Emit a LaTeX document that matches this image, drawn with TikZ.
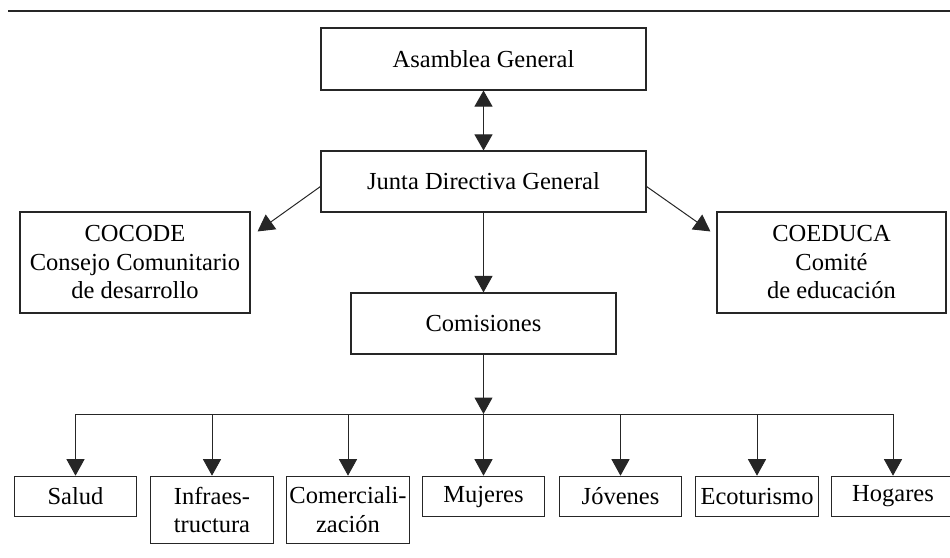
\documentclass[tikz,border=0pt]{standalone}
\usepackage{fontspec}
\setmainfont{Liberation Serif}
\usetikzlibrary{arrows.meta,calc}
\begin{document}
\begin{tikzpicture}[x=1pt,y=-1pt,
  box/.style={draw=black!85,line width=1.1pt,inner sep=0pt,align=center,
    font=\fontsize{24.5pt}{28.5pt}\selectfont},
  small/.style={box,minimum width=122.5pt,anchor=north},
  conn/.style={draw=black!85,line width=1pt,-{Triangle[length=16.5pt,width=18pt]}},
  biconn/.style={draw=black!85,line width=1pt,{Triangle[length=16pt,width=18pt]}-{Triangle[length=16pt,width=18pt]}},
  bus/.style={draw=black!85,line width=1pt}]
\useasboundingbox (0,0) rectangle (950,557);
\draw[line width=2.7pt,black!85] (8,11) -- (950,11);

\node[box,minimum width=325pt,minimum height=62pt] (asam) at (483.5,59) {Asamblea General};
\node[box,minimum width=325pt,minimum height=61pt] (junta) at (483.5,181.5) {Junta Directiva General};
\node[box,minimum width=230pt,minimum height=101pt] (cocode) at (135,262.5) {COCODE\\Consejo Comunitario\\de desarrollo};
\node[box,minimum width=229pt,minimum height=101pt] (coeduca) at (831.5,262.5) {COEDUCA\\Comité\\de educación};
\node[box,minimum width=265pt,minimum height=61pt] (comis) at (483.5,323.5) {Comisiones};

\node[small,minimum height=40.5pt] (salud) at (75.5,475.7) {Salud};
\node[small,minimum height=67pt] (infra) at (212,475.7) {Infraes-\\tructura};
\node[small,minimum height=67pt] (comer) at (348,475.7) {Comerciali-\\zación};
\node[small,minimum height=40.5pt] (muj) at (483.5,475.7) {Mujeres};
\node[small,minimum height=40.5pt] (jov) at (620.5,475.7) {Jóvenes};
\node[small,minimum height=40.5pt] (eco) at (757,475.7) {Ecoturismo};
\node[small,minimum height=40.5pt] (hog) at (893,475.7) {Hogares};

\coordinate (busc) at (483.5,414);
\coordinate (busl) at (75.5,414);
\coordinate (busr) at (893,414);

\draw[biconn] (asam.south) -- (junta.north);
\draw[conn] ([yshift=-5pt]junta.west) -- ($(cocode.north east)+(7,20)$);
\draw[conn] ([yshift=-5pt]junta.east) -- ($(coeduca.north west)+(-6,20)$);
\draw[conn] (junta.south) -- (comis.north);
\draw[conn] (comis.south) -- (busc);
\draw[bus] (busl) -- (busr);
\foreach \n in {salud,infra,comer,muj,jov,eco,hog}
  \draw[conn] (busl -| \n.north) -- (\n.north);
\end{tikzpicture}
\end{document}
